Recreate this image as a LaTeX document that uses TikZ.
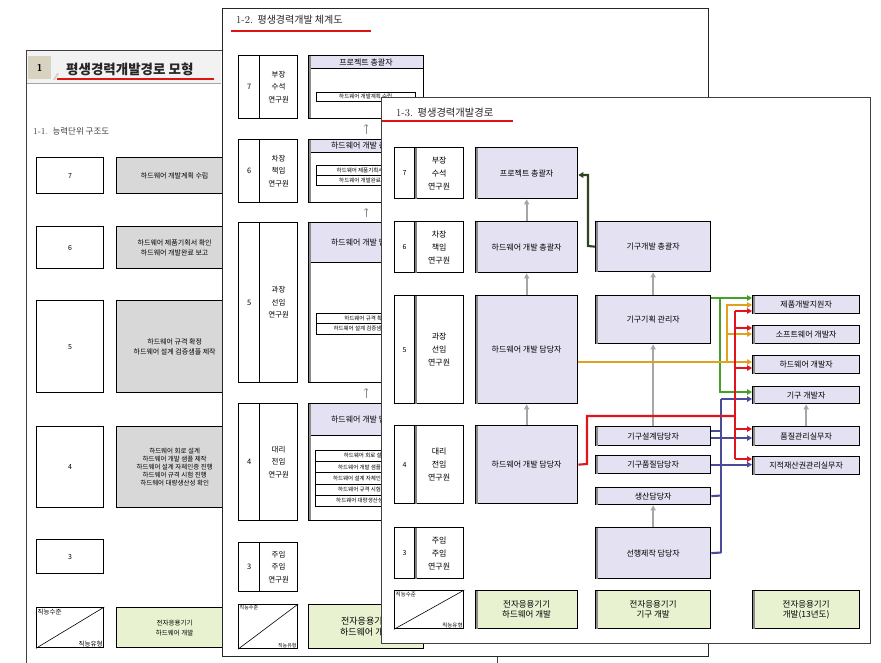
\documentclass[tikz,border=0pt]{standalone}
\usepackage{fontspec}
\newfontfamily\kr{Noto Sans CJK KR}
\usetikzlibrary{arrows.meta}
\definecolor{lav}{RGB}{228,226,242}
\definecolor{grnc}{RGB}{232,241,208}
\definecolor{gbox}{RGB}{216,216,216}
\definecolor{numc}{RGB}{216,210,192}
\definecolor{cdkg}{RGB}{45,70,30}
\definecolor{cgrn}{RGB}{70,160,40}
\definecolor{corg}{RGB}{222,162,32}
\definecolor{cred}{RGB}{225,20,30}
\definecolor{cpur}{RGB}{75,75,155}
\definecolor{ulred}{RGB}{220,20,20}
\newcommand\B[6][]{\node[#1,anchor=north west,minimum width=#4pt,minimum height=#5pt,inner sep=0pt] (#2) at (#3) {#6};}
\newcommand\lsh[2][black!45]{\draw[#1,line width=2.6pt,shorten <=0.7pt,shorten >=0.7pt] ([xshift=1.9pt]#2.north west) -- ([xshift=1.9pt]#2.south west);}
\begin{document}
\begin{tikzpicture}[x=1pt,y=-1pt,
  page/.style={draw=black!75,line width=0.7pt,fill=white},
  pbx/.style={draw=black,line width=1.3pt,fill=white,align=center,font=\kr\fontsize{7}{10}\selectfont},
  pgray/.style={pbx,fill=gbox},
  pgrn/.style={pbx,fill=grnc,font=\kr\fontsize{6.5}{10}\selectfont},
  lab2/.style={draw=black,line width=1.2pt,fill=white,align=center,font=\kr\fontsize{7.5}{12.5}\selectfont},
  rbox2/.style={draw=black,line width=1pt,fill=white},
  hdr2/.style={draw=black,line width=1pt,fill=lav,align=center,font=\kr\fontsize{8}{9}\selectfont},
  sm2/.style={draw=black,line width=0.5pt,fill=white,align=center,font=\kr\fontsize{5.5}{6}\selectfont},
  gn2/.style={draw=black,line width=1pt,fill=grnc,align=center,font=\kr\fontsize{9}{11}\selectfont},
  lab3/.style={draw=black,line width=1.3pt,fill=white,align=center,font=\kr\fontsize{8}{13}\selectfont},
  lv3/.style={draw=black,line width=1.3pt,fill=lav,align=center,font=\kr\fontsize{8}{10}\selectfont},
  gn3/.style={draw=black,line width=1.3pt,fill=grnc,align=center,font=\kr\fontsize{8.5}{10}\selectfont},
  dtxt/.style={inner sep=1.5pt,font=\kr\fontsize{5.5}{6}\selectfont},
  garr/.style={draw=black!35,line width=1.8pt,-{Triangle[length=5pt,width=5pt]}},
  garr2/.style={draw=black!45,line width=0.6pt,-{Straight Barb[length=2pt]},shorten <=5pt,shorten >=5pt},
  cline/.style={line width=2.1pt},
  carr/.style={cline,-{Triangle[length=5pt,width=5.5pt]}}]
\useasboundingbox (0,0) rectangle (881,663);
\fill[white] (0,0) rectangle (881,663);

% ================= Page 1 =================
\B[page]{pg1}{26,50}{471}{630}{}
\fill[black!5] (27,51) rectangle (221,83);
\draw[black!35,line width=0.6pt] (27,83) -- (221,83);
\B[fill=numc,font=\sffamily\bfseries\fontsize{10}{10}\selectfont]{p1num}{28,56}{23}{23}{1}
\fill[numc] (53,80) -- (57,73) -- (59,74) -- (55,80) -- cycle;
\node[anchor=west,font=\kr\bfseries\fontsize{13.5}{14}\selectfont,text=black!85,inner sep=0pt] (p1title) at (66,69) {평생경력개발경로 모형};
\draw[ulred,line width=1.6pt] (57,79) -- (214,79);
\node[anchor=west,inner sep=0pt,text=black!75] (p1sub) at (33,131) {{\fontsize{9}{9}\selectfont 1-1.} {\kr\fontsize{8.5}{9}\selectfont 능력단위 구조도}};

\B[pbx]{p1n7}{36,157}{67}{36}{7}
\B[pgray]{p1t7}{116,157}{116}{36}{하드웨어 개발계획 수립}
\B[pbx]{p1n6}{36,226}{67}{42}{6}
\B[pgray]{p1t6}{116,226}{116}{42}{하드웨어 제품기획서 확인\\하드웨어 개발완료 보고}
\B[pbx]{p1n5}{36,300}{67}{92}{5}
\B[pgray]{p1t5}{116,300}{116}{92}{하드웨어 규격 확정\\하드웨어 설계 검증샘플 제작}
\B[pbx]{p1n4}{36,426}{67}{81}{4}
\B[pgray,font=\kr\fontsize{6.5}{7.8}\selectfont]{p1t4}{116,426}{116}{81}{하드웨어 회로 설계\\하드웨어 개발 샘플 제작\\하드웨어 설계 자체인증 진행\\하드웨어 규격 시험 진행\\하드웨어 대량생산성 확인}
\B[pbx]{p1n3}{36,539}{67}{34}{3}
\B[pbx]{p1d}{36,607}{67}{40}{}
\draw[line width=0.6pt] (p1d.south west) -- (p1d.north east);
\node[dtxt,anchor=north west,font=\kr\fontsize{6.5}{7}\selectfont] (p1da) at (p1d.north west) {직능수준};
\node[dtxt,anchor=south east,font=\kr\fontsize{6.5}{7}\selectfont] (p1db) at (p1d.south east) {직능유형};
\B[pgrn]{p1g}{116,607}{116}{40}{전자응용기기\\하드웨어 개발}

% ================= Page 2 =================
\B[page,draw=black!85]{pg2}{222,8}{486}{648}{}
\node[anchor=west,inner sep=0pt,text=black!85] (p2title) at (236,20) {{\fontsize{10.5}{10}\selectfont 1-2.} {\kr\fontsize{10}{10}\selectfont 평생경력개발 체계도}};
\draw[ulred,line width=1.6pt] (231,31) -- (371,31);

\B[lab2]{p2n7}{238,55}{21}{63}{7}
\B[lab2]{p2t7}{259,55}{38}{63}{부장\\수석\\연구원}
\B[lab2]{p2n6}{238,139}{21}{63}{6}
\B[lab2]{p2t6}{259,139}{38}{63}{차장\\책임\\연구원}
\B[lab2]{p2n5}{238,222}{21}{160}{5}
\B[lab2]{p2t5}{259,222}{38}{160}{과장\\선임\\연구원}
\B[lab2]{p2n4}{238,403}{21}{117}{4}
\B[lab2]{p2t4}{259,403}{38}{117}{대리\\전임\\연구원}
\B[lab2]{p2n3}{238,542}{21}{49}{3}
\B[lab2]{p2t3}{259,542}{38}{49}{주임\\주임\\연구원}
\B[lab2]{p2d}{238,604}{59}{44}{}
\draw[line width=0.6pt] (p2d.south west) -- (p2d.north east);
\node[dtxt,anchor=north west,font=\kr\fontsize{5}{6}\selectfont] (p2da) at (p2d.north west) {직능수준};
\node[dtxt,anchor=south east,font=\kr\fontsize{5}{6}\selectfont] (p2db) at (p2d.south east) {직능유형};

\B[rbox2]{p2b7}{308,55}{115}{63}{}
\B[hdr2]{p2h7}{308,55}{115}{13}{프로젝트 총괄자}
\B[sm2]{p2s7}{316,92}{99}{9}{하드웨어 개발계획 수립}
\lsh{p2b7}
\B[rbox2]{p2b6}{308,139}{115}{63}{}
\B[hdr2]{p2h6}{308,139}{115}{13}{하드웨어 개발 총괄자}
\B[sm2]{p2s6a}{316,165}{99}{10}{하드웨어 제품기획서 확인}
\B[sm2]{p2s6b}{316,175}{99}{10}{하드웨어 개발완료 보고}
\lsh{p2b6}
\B[rbox2]{p2b5}{308,222}{115}{160}{}
\B[hdr2]{p2h5}{308,222}{115}{40}{하드웨어 개발 담당자}
\B[sm2]{p2s5a}{316,313}{99}{10}{하드웨어 규격 확정}
\B[sm2]{p2s5b}{316,323}{99}{11}{하드웨어 설계 검증샘플 제작}
\lsh{p2b5}
\B[rbox2]{p2b4}{308,403}{115}{117}{}
\B[hdr2]{p2h4}{308,403}{115}{32}{하드웨어 개발 담당자}
\B[sm2]{p2s4a}{315,450}{100}{11.2}{하드웨어 회로 설계}
\B[sm2]{p2s4b}{315,461.2}{100}{11.2}{하드웨어 개발 샘플 제작}
\B[sm2]{p2s4c}{315,472.4}{100}{11.2}{하드웨어 설계 자체인증 진행}
\B[sm2]{p2s4d}{315,483.6}{100}{11.2}{하드웨어 규격 시험 진행}
\B[sm2]{p2s4e}{315,494.8}{100}{11.2}{하드웨어 대량생산성 확인}
\lsh{p2b4}
\B[gn2]{p2g}{308,604}{115}{44}{전자응용기기\\하드웨어 개발}
\draw[garr2] (p2b6.north) -- (p2b7.south);
\draw[garr2] (p2b5.north) -- (p2b6.south);
\draw[garr2] (p2b4.north) -- (p2b5.south);

% ================= Page 3 =================
\B[page]{pg3}{381,97}{489}{546}{}
\node[anchor=west,inner sep=0pt,text=black!85] (p3title) at (396,113) {{\fontsize{10.5}{10}\selectfont 1-3.} {\kr\fontsize{10.3}{10}\selectfont 평생경력개발경로}};
\draw[ulred,line width=1.6pt] (382,121) -- (513,121);

\B[lab3,font=\kr\fontsize{7}{8}\selectfont]{p3n7}{394,147}{20}{51}{7}
\B[lab3]{p3t7}{414,147}{49}{51}{부장\\수석\\연구원}
\B[lab3,font=\kr\fontsize{7}{8}\selectfont]{p3n6}{394,221}{20}{51}{6}
\B[lab3]{p3t6}{414,221}{49}{51}{차장\\책임\\연구원}
\B[lab3,font=\kr\fontsize{7}{8}\selectfont]{p3n5}{394,295}{20}{108}{5}
\B[lab3]{p3t5}{414,295}{49}{108}{과장\\선임\\연구원}
\B[lab3,font=\kr\fontsize{7}{8}\selectfont]{p3n4}{394,425}{20}{78}{4}
\B[lab3]{p3t4}{414,425}{49}{78}{대리\\전임\\연구원}
\B[lab3,font=\kr\fontsize{7}{8}\selectfont]{p3n3}{394,527}{20}{51}{3}
\B[lab3]{p3t3}{414,527}{49}{51}{주임\\주임\\연구원}
\lsh[black!50]{p3t7}\lsh[black!50]{p3t6}\lsh[black!50]{p3t5}\lsh[black!50]{p3t4}\lsh[black!50]{p3t3}
\B[lab3]{p3d}{394,590}{69}{38}{}
\draw[line width=0.6pt] (p3d.south west) -- (p3d.north east);
\node[dtxt,anchor=north west] (p3da) at (p3d.north west) {직능수준};
\node[dtxt,anchor=south east] (p3db) at (p3d.south east) {직능유형};

\B[lv3]{m7}{475,147}{102}{51}{프로젝트 총괄자}
\B[lv3]{m6}{475,221}{102}{51}{하드웨어 개발 총괄자}
\B[lv3]{m5}{475,295}{102}{108}{하드웨어 개발 담당자}
\B[lv3]{m4}{475,425}{102}{78}{하드웨어 개발 담당자}
\B[gn3]{mg}{475,590}{102}{38}{전자응용기기\\하드웨어 개발}

\B[lv3]{c6}{595,221}{115}{50}{기구개발 총괄자}
\B[lv3]{c5}{595,295}{115}{48}{기구기획 관리자}
\B[lv3]{c4a}{595,426}{115}{19}{기구설계담당자}
\B[lv3]{c4b}{595,455}{115}{18}{기구품질담당자}
\B[lv3]{c4c}{595,487}{115}{17}{생산담당자}
\B[lv3]{c3}{595,527}{115}{51}{선행제작 담당자}
\B[gn3]{cg}{595,590}{115}{38}{전자응용기기\\기구 개발}

\B[lv3]{t1}{752,295}{107}{18}{제품개발지원자}
\B[lv3]{t2}{752,325}{107}{18}{소프트웨어 개발자}
\B[lv3]{t3}{752,355}{107}{18}{하드웨어 개발자}
\B[lv3]{t4}{752,386}{107}{17}{기구 개발자}
\B[lv3]{t5}{752,426}{107}{19}{품질관리실무자}
\B[lv3]{t6}{752,456}{107}{18}{지적재산권관리실무자}
\B[gn3]{tg}{752,590}{107}{38}{전자응용기기\\개발(13년도)}

\lsh{m7}\lsh{m6}\lsh{m5}\lsh{m4}\lsh{mg}
\lsh{c6}\lsh{c5}\lsh{c4a}\lsh{c4b}\lsh{c4c}\lsh{c3}\lsh{cg}
\lsh{t1}\lsh{t2}\lsh{t3}\lsh{t4}\lsh{t5}\lsh{t6}\lsh{tg}

% gray promotion arrows
\draw[garr] (m6.north) -- (m7.south);
\draw[garr] (m5.north) -- (m6.south);
\draw[garr] (m4.north) -- (m5.south);
\draw[garr] (c5.north) -- (c6.south);
\draw[garr] (c4a.north) -- (c5.south);
\draw[garr] (c3.north) -- (c4c.south);
\draw[garr] (t5.north) -- (t4.south);

% bus coordinates
\coordinate (dk1) at (588,246);
\coordinate (dk2) at (588,175);
\coordinate (gb1) at (720,298);
\coordinate (gb2) at (720,392);
\coordinate (ob1) at (727,362);
\coordinate (ob2) at (727,305);
\coordinate (ob3) at (727,334);
\coordinate (rb1) at (587,464);
\coordinate (rb2) at (587,416);
\coordinate (rb3) at (735,416);
\coordinate (rv1) at (735,311);
\coordinate (rv2) at (735,328);
\coordinate (rv3) at (735,368);
\coordinate (rv4) at (735,429);
\coordinate (rv5) at (735,459);
\coordinate (pb1) at (721,399);
\coordinate (pb2) at (721,431);
\coordinate (pb3) at (721,495.5);
\coordinate (pb4) at (721,552.5);

% dark green
\draw[carr,cdkg] (c6.west) -- (dk1) -- (dk2) -- (m7.east |- dk2);
% green
\draw[carr,cgrn] (c5.east |- gb1) -- (t1.west |- gb1);
\draw[carr,cgrn] (gb1) -- (gb2) -- (t4.west |- gb2);
% orange
\draw[carr,corg] (m5.east |- ob1) -- (t3.west |- ob1);
\draw[carr,corg] (ob1) -- (ob2) -- (t1.west |- ob2);
\draw[carr,corg] (ob3) -- (t2.west |- ob3);
% purple
\draw[cline,cpur] (pb1) -- (pb4);
\draw[carr,cpur] (pb1) -- (t4.west |- pb1);
\draw[cline,cpur] (c4a.east |- pb2) -- (pb2);
\draw[cline,cpur] (c4c.east) -- (pb3);
\draw[cline,cpur] (c3.east) -- (pb4);
\draw[carr,cpur] (c4a.east |- 0,438) -- (t5.west |- 0,438);
\draw[carr,cpur] (c4b.east) -- (t6.west |- c4b.east);
% red
\draw[cline,cred] (m4.east) -- (rb1) -- (rb2) -- (rb3);
\draw[cline,cred] (rv1) -- (rv5);
\draw[carr,cred] (rv1) -- (t1.west |- rv1);
\draw[carr,cred] (rv2) -- (t2.west |- rv2);
\draw[carr,cred] (rv3) -- (t3.west |- rv3);
\draw[carr,cred] (rv4) -- (t5.west |- rv4);
\draw[carr,cred] (rv5) -- (t6.west |- rv5);
\end{tikzpicture}
\end{document}
